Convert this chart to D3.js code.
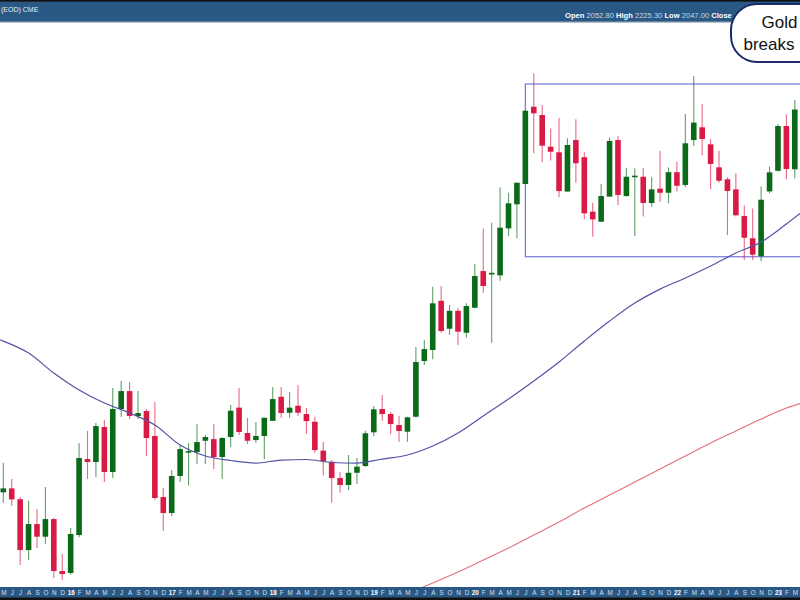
<!DOCTYPE html>
<html><head><meta charset="utf-8">
<script src="https://cdn.jsdelivr.net/npm/d3@7"></script>
<style>body{margin:0;background:#fff}svg{display:block;font-family:"Liberation Sans",Arial,sans-serif}</style>
</head><body>
<svg id="c" width="800" height="600"></svg>
<script>
// ---- data (monthly gold futures) ----
const months = ["2015-05","2015-06","2015-07","2015-08","2015-09","2015-10","2015-11","2015-12",
"2016-01","2016-02","2016-03","2016-04","2016-05","2016-06","2016-07","2016-08","2016-09","2016-10","2016-11","2016-12",
"2017-01","2017-02","2017-03","2017-04","2017-05","2017-06","2017-07","2017-08","2017-09","2017-10","2017-11","2017-12",
"2018-01","2018-02","2018-03","2018-04","2018-05","2018-06","2018-07","2018-08","2018-09","2018-10","2018-11","2018-12",
"2019-01","2019-02","2019-03","2019-04","2019-05","2019-06","2019-07","2019-08","2019-09","2019-10","2019-11","2019-12",
"2020-01","2020-02","2020-03","2020-04","2020-05","2020-06","2020-07","2020-08","2020-09","2020-10","2020-11","2020-12",
"2021-01","2021-02","2021-03","2021-04","2021-05","2021-06","2021-07","2021-08","2021-09","2021-10","2021-11","2021-12",
"2022-01","2022-02","2022-03","2022-04","2022-05","2022-06","2022-07","2022-08","2022-09","2022-10","2022-11","2022-12",
"2023-01","2023-02","2023-03"];
const open = [1176.2,1182.6,1165.2,1086.8,1126.2,1106.9,1133.9,1056.0,
1053.2,1109.4,1231.1,1226.1,1286.3,1209.4,1318.4,1351.2,1305.9,1314.8,1270.6,1168.7,
1143.4,1202.8,1242.1,1243.0,1262.3,1265.2,1234.5,1268.8,1320.9,1275.8,1263.5,1270.6,
1297.3,1340.8,1311.7,1324.4,1309.4,1295.6,1245.4,1226.6,1199.5,1188.1,1208.2,1219.4,
1277.0,1318.4,1309.4,1289.8,1278.1,1304.6,1408.0,1429.4,1529.1,1471.7,1508.3,1463.6,
1514.6,1592.6,1586.1,1583.3,1688.5,1745.1,1794.3,1994.7,1972.2,1888.4,1874.0,1775.9,
1905.7,1861.5,1727.6,1704.0,1763.6,1905.7,1765.0,1812.8,1812.3,1748.2,1783.0,1773.0,
1823.6,1792.0,1905.7,1939.2,1894.6,1835.7,1805.9,1781.2,1717.3,1665.7,1625.4,1776.2,
1827.2,1942.7,1830.9];
const high = [1224.9,1197.8,1168.7,1162.7,1149.6,1184.8,1135.6,1080.9,
1120.1,1258.4,1279.3,1293.3,1298.6,1356.9,1369.9,1368.1,1351.2,1318.4,1331.1,1183.2,
1212.6,1254.9,1258.4,1291.5,1272.3,1291.5,1268.8,1325.6,1356.9,1302.3,1295.1,1302.8,
1358.8,1358.8,1349.4,1362.5,1320.2,1304.6,1260.1,1229.4,1210.0,1237.9,1232.8,1279.8,
1323.9,1343.9,1313.0,1306.4,1304.6,1435.3,1449.0,1558.9,1560.4,1520.2,1513.4,1523.7,
1608.1,1688.5,1701.7,1786.2,1773.0,1797.5,1986.0,2088.1,1999.4,1936.4,1964.9,1910.1,
1960.5,1874.0,1748.8,1794.3,1912.3,1916.2,1834.8,1833.4,1834.8,1810.8,1877.9,1835.7,
1849.9,1975.2,2080.4,2002.1,1907.5,1877.9,1810.8,1821.1,1742.3,1735.3,1788.3,1837.3,
1948.0,1974.0,2013.2];
const low = [1159.6,1154.4,1064.8,1072.0,1089.9,1095.9,1046.0,1043.1,
1051.0,1106.1,1197.8,1201.1,1192.9,1199.5,1304.1,1300.3,1300.3,1236.2,1164.3,1116.0,
1138.7,1192.9,1187.3,1222.8,1222.8,1214.3,1197.8,1251.5,1272.3,1256.7,1259.0,1231.1,
1296.8,1302.8,1302.8,1305.9,1274.0,1241.8,1203.6,1159.6,1175.6,1179.9,1189.7,1217.7,
1270.0,1297.3,1273.5,1260.6,1260.6,1303.2,1400.3,1411.3,1463.6,1459.1,1439.2,1453.7,
1513.4,1546.0,1443.7,1571.7,1670.9,1665.7,1794.3,1871.4,1848.4,1853.2,1761.9,1775.9,
1797.5,1709.5,1669.5,1704.0,1763.6,1743.4,1763.6,1670.9,1716.1,1739.5,1750.9,1747.5,
1776.2,1786.2,1890.2,1866.5,1781.2,1797.5,1673.2,1716.1,1617.2,1617.2,1614.2,1771.6,
1824.7,1805.9,1808.4];
const close = [1182.6,1164.9,1086.8,1126.2,1106.9,1133.9,1056.0,1051.7,
1111.0,1232.8,1226.1,1288.0,1209.4,1318.4,1351.2,1305.9,1311.2,1267.1,1167.1,1143.4,
1202.8,1248.0,1244.6,1260.1,1268.8,1234.5,1267.1,1315.3,1277.5,1262.3,1270.6,1302.8,
1336.5,1311.2,1320.9,1311.7,1296.8,1246.3,1227.3,1199.5,1188.1,1208.2,1218.3,1275.3,
1317.9,1309.4,1291.5,1279.3,1303.5,1406.1,1431.2,1523.8,1467.1,1508.3,1465.7,1518.1,
1581.8,1560.4,1588.8,1690.1,1747.5,1797.5,1983.7,1976.7,1891.0,1875.4,1777.1,1892.8,
1845.9,1723.7,1709.5,1765.0,1903.3,1767.6,1812.3,1815.0,1748.2,1781.2,1773.0,1823.6,
1790.0,1897.2,1951.8,1908.4,1844.2,1802.4,1777.1,1719.1,1667.1,1628.8,1756.1,1823.2,
1942.7,1831.6,1987.0];

// moving averages
const maBlueMonths = ["2015-04","2015-05","2015-08","2015-11","2016-02","2016-05","2016-08","2016-11",
"2017-02","2017-05","2017-08","2017-11","2018-02","2018-05","2018-08","2018-11","2019-02","2019-05",
"2019-08","2019-11","2020-02","2020-05","2020-08","2020-11","2021-02","2021-05","2021-08","2021-11",
"2022-02","2022-05","2022-08","2022-11","2023-02","2023-04"];
const maBlue = [1453.1,1447.0,1423.5,1385.0,1353.1,1329.2,1311.2,1289.8,1254.9,1236.2,1228.6,1224.4,
1229.4,1230.3,1225.3,1224.4,1231.1,1237.9,1253.2,1275.8,1305.9,1336.5,1369.9,1406.1,1447.0,1487.2,
1524.4,1553.8,1577.5,1603.7,1632.4,1657.2,1698.7,1729.1];
const maRedMonths = ["2019-06","2019-08","2019-11","2020-02","2020-05","2020-08","2020-11","2021-02",
"2021-05","2021-08","2021-11","2022-02","2022-05","2022-08","2022-11","2023-02","2023-04"];
const maRed = [1028.9,1038.9,1054.6,1072.0,1089.9,1109.4,1129.3,1151.2,1171.9,1192.9,1214.3,1236.2,
1258.4,1279.3,1300.3,1320.2,1330.0];

// trading range box
const boxMonths = ["2020-07","2024-01"];
const boxPrices = [2057.7,1624.2];

// header texts
const headerLabels = ["Open","High","Low","Close"];
const headerValues = ["2052.80","2225.30","2047.00",""];
const titleText = "(EOD) CME";
const calloutLines = ["Gold","breaks"];

// ---- drawing ----
const W = 800, H = 600;
const svg = d3.select("#c");
svg.append("rect").attr("width",W).attr("height",H).attr("fill","#fff");

const mIndex = s => { const [y,m] = s.split("-").map(Number); return (y-2015)*12 + (m-5); };
const x = d3.scaleLinear().domain([0, months.length-1]).range([3.3, 794.8]);
const y = d3.scaleLog().domain([1046, 2089]).range([578, 73]);

const GREEN = "#0a6a18", RED = "#d81a45";

// box
svg.append("rect")
  .attr("x", x(mIndex(boxMonths[0])))
  .attr("y", y(boxPrices[0]))
  .attr("width", x(mIndex(boxMonths[1])) - x(mIndex(boxMonths[0])))
  .attr("height", y(boxPrices[1]) - y(boxPrices[0]))
  .attr("fill","none").attr("stroke","#7474d8").attr("stroke-width",1.2);

// candles
const candles = months.map((m,i)=>({i, o:open[i], h:high[i], l:low[i], c:close[i]}));
const g = svg.append("g");
const bw = 5.6;
g.selectAll("line.w").data(candles).join("line")
  .attr("x1", d=>x(d.i)).attr("x2", d=>x(d.i))
  .attr("y1", d=>y(d.h)).attr("y2", d=>y(d.l))
  .attr("stroke", d=> d.c>=d.o ? GREEN : RED)
  .attr("stroke-opacity",0.65).attr("stroke-width",1.1);
g.selectAll("rect.b").data(candles).join("rect")
  .attr("x", d=>x(d.i)-bw/2).attr("width", bw)
  .attr("y", d=>y(Math.max(d.o,d.c)))
  .attr("height", d=>Math.max(1.6, Math.abs(y(d.o)-y(d.c))))
  .attr("fill", d=> d.c>=d.o ? GREEN : RED);

// moving averages
const line = d3.line().x(d=>x(d[0])).y(d=>y(d[1])).curve(d3.curveMonotoneX);
svg.append("path").datum(maBlueMonths.map((m,i)=>[mIndex(m), maBlue[i]]))
  .attr("d", line).attr("fill","none").attr("stroke","#5252a8").attr("stroke-width",1.2);
svg.append("path").datum(maRedMonths.map((m,i)=>[mIndex(m), maRed[i]]))
  .attr("d", line).attr("fill","none").attr("stroke","#e2707e").attr("stroke-width",1.1);

// header band
svg.append("rect").attr("x",0).attr("y",0).attr("width",W).attr("height",22).attr("fill","#2a5885");
svg.append("rect").attr("x",0).attr("y",0).attr("width",W).attr("height",1.6).attr("fill","#111");
svg.append("rect").attr("x",0).attr("y",21.5).attr("width",W).attr("height",1.2).attr("fill","#9aaabb");
svg.append("text").attr("x",1).attr("y",11.8).attr("fill","#e6eef6")
  .attr("font-size",7).text(titleText);

const ht = svg.append("text").attr("x",565).attr("y",18).attr("font-size",7.5);
headerLabels.forEach((lab,i)=>{
  ht.append("tspan").attr("font-weight","bold").attr("fill","#ffffff").text((i?" ":"")+lab);
  if (headerValues[i]) ht.append("tspan").attr("fill","#c9d6e3").text(" "+headerValues[i]);
});
const tl = ht.node().getComputedTextLength();
if (tl>0) ht.attr("font-size", 7.5*167/tl);

// bottom axis band
svg.append("rect").attr("x",0).attr("y",587).attr("width",W).attr("height",11).attr("fill","#2a5885");
svg.append("rect").attr("x",0).attr("y",597.5).attr("width",W).attr("height",2.5).attr("fill","#111");
const monthLetters = ["J","F","M","A","M","J","J","A","S","O","N","D"];
const axis = d3.axisBottom(x)
  .tickValues(d3.range(months.length))
  .tickSize(0).tickPadding(3.3)
  .tickFormat(i=>{ const [yy,mm] = months[i].split("-").map(Number); return mm===1 ? String(yy).slice(2) : monthLetters[mm-1]; });
const ax = svg.append("g").attr("transform","translate(0,587)").call(axis);
ax.select(".domain").remove();
ax.selectAll("text").attr("font-size",6.3)
  .attr("font-family",'"Liberation Sans",Arial,sans-serif')
  .attr("font-weight", i=> months[i].endsWith("-01") ? "bold" : "normal")
  .attr("fill", i=> months[i].endsWith("-01") ? "#ffffff" : "#d4e0ec");

// callout bubble
svg.append("rect").attr("x",731).attr("y",4).attr("width",160).attr("height",58).attr("rx",26)
  .attr("fill","#fff").attr("stroke","#1a2a6a").attr("stroke-width",2);
const t1 = svg.append("text").attr("x",767).attr("y",27.5).attr("font-size",17).attr("fill","#111").text(calloutLines[0]);
const w1 = t1.node().getComputedTextLength();
if (w1 > 0) t1.attr("x", Math.min(767, 797.5 - w1));
const t2 = svg.append("text").attr("x",743.5).attr("y",50).attr("font-size",17).attr("fill","#111").text(calloutLines[1]);
const w2 = t2.node().getComputedTextLength();
if (w2 > 0) t2.attr("x", Math.min(743.5, 797.5 - w2));
</script>
</body></html>
